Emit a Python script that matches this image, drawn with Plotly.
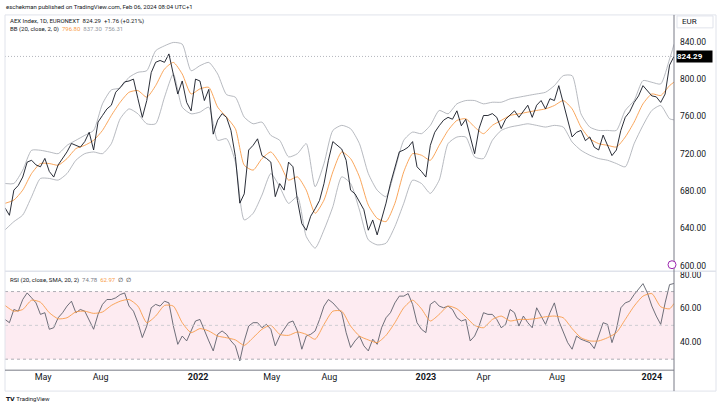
import pandas as pd
import plotly.graph_objects as go

# Euronext closing days in the period, so the axis runs on trading days like the source chart
holidays = ["2021-04-02", "2021-04-05", "2022-04-15", "2022-04-18", "2022-12-26",
            "2023-04-07", "2023-04-10", "2023-05-01", "2023-12-25", "2023-12-26", "2024-01-01"]

# one sample every 5 trading days, ending on the last bar (Feb 06, 2024)
tdays = pd.bdate_range("2020-12-01", "2024-02-06", freq="C", holidays=holidays)
week_dates = list(tdays[::-1][::5][:152][::-1])
band_dates = week_dates[::2] + [week_dates[-1]]

close = [
    662, 654, 681, 686, 695, 711, 713, 708, 706, 715, 701, 695, 708, 715, 722, 731, 729, 727, 733, 743,
    724, 754, 761, 768, 772, 786, 791, 797, 798, 800, 779, 759, 777, 807, 818, 820, 818, 827, 805, 784,
    798, 775, 766, 800, 798, 777, 789, 741, 756, 763,
    759, 745, 717, 667, 677, 724, 729, 736, 718, 715, 711, 674, 688, 681, 711, 706, 670, 645, 638, 653,
    661, 670, 688, 713, 733, 729, 725, 713, 681, 677, 669, 660, 638, 649, 633, 649, 667, 688, 705, 722,
    724, 727, 733, 706, 701, 695, 729, 743, 750, 756, 759,
    757, 766, 750, 757, 738, 720, 747, 761, 761, 763, 759, 747, 757, 761, 766, 759, 765, 772, 759, 772,
    777, 768, 779, 777, 793, 775, 756, 738, 743, 745, 734, 738, 727, 724, 740, 729, 718, 724, 745, 759,
    765, 775, 782, 793, 788, 782, 781, 775, 784, 815, 824.29,
]

# Bollinger Bands (20, close, 2) - sampled every two weeks
bb_upper = [
    688.1, 688.1, 702.4, 723.7, 723.7, 721.9, 720.1, 729.0, 734.4, 739.7,
    745.0, 773.5, 788.4, 790.5, 801.9, 807.3, 809.0, 830.4, 835.7, 839.3,
    837.5, 809.0, 814.4, 817.9, 805.5,
    783.4, 780.6, 759.2, 752.1, 753.9, 739.7, 734.4, 716.6, 720.1, 730.8,
    684.6, 709.5, 745.0, 750.4, 746.8, 730.8, 698.8, 681.0, 673.9, 702.4,
    734.4, 743.2, 741.5, 750.4, 766.4,
    762.8,
    773.5, 777.0, 777.0, 773.5, 775.2, 775.2, 778.8, 780.6, 782.4, 784.1,
    785.9, 793.0, 803.7, 803.7, 762.8, 748.6, 745.0, 745.0, 745.0, 766.4,
    777.0, 798.4, 796.6, 794.8, 821.5,
    837.30,
]
bb_basis = [
    666.8, 670.3, 681.0, 698.8, 709.5, 709.5, 707.7, 714.8, 725.5, 729.0,
    734.4, 745.0, 761.0, 775.2, 785.9, 787.7, 780.6, 793.0, 810.8, 817.9,
    805.5, 784.1, 789.5, 791.2, 769.9,
    759.2, 746.8, 707.7, 702.4, 714.8, 721.9, 709.5, 691.7, 695.2, 681.0,
    656.1, 670.3, 700.6, 721.9, 714.8, 695.2, 665.0, 650.8, 647.2, 666.8,
    700.6, 720.1, 718.4, 713.0, 729.0,
    745.0,
    755.7, 757.5, 748.6, 741.5, 750.4, 755.7, 761.0, 762.8, 764.6, 766.4,
    768.1, 771.7, 777.0, 768.1, 748.6, 736.1, 730.8, 729.0, 727.2, 737.9,
    753.9, 773.5, 784.1, 782.4, 793.0,
    796.80,
]
bb_lower = [
    638.3, 647.2, 654.3, 673.9, 693.5, 693.5, 691.7, 698.8, 713.0, 720.1,
    721.9, 720.1, 730.8, 757.5, 768.1, 762.8, 752.1, 752.1, 780.6, 805.5,
    769.9, 762.8, 764.6, 769.9, 734.4,
    736.1, 711.2, 649.0, 656.1, 675.7, 698.8, 684.6, 666.8, 673.9, 631.2,
    618.8, 638.3, 663.2, 695.2, 688.1, 659.7, 627.7, 622.3, 624.1, 641.9,
    666.8, 691.7, 688.1, 677.5, 691.7,
    730.8,
    737.9, 737.9, 716.6, 714.8, 734.4, 745.0, 748.6, 750.4, 752.1, 750.4,
    748.6, 750.4, 748.6, 732.6, 723.7, 718.4, 714.8, 713.0, 709.5, 705.9,
    730.8, 750.4, 766.4, 771.7, 757.5,
    756.31,
]

# RSI (20) weekly samples and its SMA (20) every two weeks
rsi = [
    53.5, 51.6, 59.4, 58.4, 65.3, 69.2, 66.3, 63.3, 56.5, 57.5,
    47.7, 48.6, 54.5, 57.5, 61.4, 64.3, 57.5, 59.4, 58.4, 53.5,
    47.7, 56.5, 62.4, 65.3, 65.3, 66.3, 68.2, 69.2, 61.4, 58.4,
    51.6, 42.8, 49.6, 60.4, 62.4, 61.4, 64.3, 63.3, 49.6, 38.8,
    43.7, 40.8, 46.7, 52.6, 53.5, 46.7, 40.8, 34.9, 44.7, 46.7,
    44.7, 40.8, 37.9, 29.0, 40.8, 49.6, 51.6, 51.6, 48.6, 50.6,
    47.7, 37.9, 43.7, 47.7, 51.6, 52.6, 46.7, 35.9, 43.7, 44.7,
    46.7, 53.5, 61.4, 65.3, 63.3, 60.4,
    57.5, 45.7, 36.9, 40.8, 43.7, 37.9, 34.9, 41.8, 38.8, 48.6,
    54.5, 57.5, 63.3, 67.3, 67.3, 68.8, 62.4, 51.6, 47.7, 45.7,
    62.4, 64.3, 61.4, 60.4, 61.4, 59.4, 54.5, 52.6, 53.5, 40.8,
    43.7, 49.6, 57.5, 56.5, 56.5, 53.5, 48.6, 50.6, 59.4, 57.5,
    49.6, 55.5, 51.6, 48.6, 60.4, 55.5, 50.6, 57.5, 63.3, 52.6,
    45.7, 39.8, 35.9, 43.7, 41.8, 40.8, 39.8, 36.3, 43.7, 51.6,
    50.6, 39.8, 47.7, 60.4, 63.3, 64.3, 68.2, 71.2, 74.7, 69.2,
    61.4, 55.5, 50.6, 63.3, 74.1, 74.78,
]
rsi_ma = [
    61.8, 58.4, 59.4, 64.9, 63.7, 57.5, 53.9, 54.5, 58.0, 58.4,
    57.1, 57.9, 61.8, 64.3, 65.3, 61.4, 51.6, 55.5, 61.8, 61.4,
    51.6, 45.7, 48.1, 46.7, 43.7, 42.7, 41.4, 38.2, 42.7, 47.7,
    50.0, 44.7, 44.1, 46.1, 44.7, 41.8, 50.6, 58.4,
    58.4, 49.6, 43.7, 41.4, 39.8, 44.1, 51.6, 60.4, 64.9, 59.8,
    52.6, 56.5, 61.4, 59.8, 55.1, 50.0, 48.6, 53.5, 55.5, 52.6,
    53.5, 53.5, 54.1, 55.1, 55.5, 54.5, 48.1, 42.7, 40.8, 40.8,
    42.7, 45.7, 53.5, 61.4, 67.3, 68.8, 61.0, 59.8,
    62.97,
]

tick_dates = ["2021-05-03", "2021-08-02", "2022-01-03", "2022-05-02", "2022-08-01",
              "2023-01-02", "2023-04-03", "2023-08-01", "2024-01-02"]
tick_text = ["May", "Aug", "<b>2022</b>", "May", "Aug", "<b>2023</b>", "Apr", "Aug", "<b>2024</b>"]

W, H = 720, 409
FONT = "Roboto, Arial, sans-serif"
ORANGE = "#f89c4a"
BAND = "#a5a8b0"
DARK = "#131722"
AXIS = "#787b86"


def px(x):
    return x / W


def py(y):
    return 1 - y / H


fig = go.Figure()
for vals, col, w in [(bb_upper, BAND, 0.8), (bb_lower, BAND, 0.8), (bb_basis, ORANGE, 0.9)]:
    fig.add_trace(go.Scatter(x=band_dates, y=vals, mode="lines",
                             line=dict(color=col, width=w, shape="spline", smoothing=0.6),
                             hoverinfo="skip", showlegend=False))
fig.add_trace(go.Scatter(x=week_dates, y=close, mode="lines", line=dict(color=DARK, width=0.9),
                         showlegend=False, name="AEX"))
fig.add_trace(go.Scatter(x=week_dates, y=rsi, mode="lines", line=dict(color="#5d606b", width=0.9),
                         xaxis="x", yaxis="y2", showlegend=False, name="RSI"))
fig.add_trace(go.Scatter(x=band_dates, y=rsi_ma, mode="lines",
                         line=dict(color=ORANGE, width=0.9, shape="spline", smoothing=0.6),
                         xaxis="x", yaxis="y2", showlegend=False, name="RSI MA"))

x0, x1 = px(5), px(674)
shapes = [
    # RSI background band and levels
    dict(type="rect", xref="paper", yref="y2", x0=x0, x1=x1, y0=30, y1=70,
         fillcolor="#fdebf1", line_width=0, layer="below"),
    dict(type="line", xref="paper", yref="y2", x0=x0, x1=x1, y0=70, y1=70,
         line=dict(color="#9a9ca5", width=0.8, dash="3px,3px")),
    dict(type="line", xref="paper", yref="y2", x0=x0, x1=x1, y0=50, y1=50,
         line=dict(color="#c3c5cb", width=0.8, dash="3px,3px")),
    dict(type="line", xref="paper", yref="y2", x0=x0, x1=x1, y0=30, y1=30,
         line=dict(color="#9a9ca5", width=0.8, dash="3px,3px")),
    # last price line
    dict(type="line", xref="paper", yref="y", x0=x0, x1=x1, y0=824.29, y1=824.29,
         line=dict(color="#9598a1", width=0.7, dash="1px,2px")),
    # frame
    dict(type="rect", xref="paper", yref="paper", x0=px(5), x1=px(716), y0=py(392), y1=py(14),
         line=dict(color="#e0e3eb", width=1)),
    dict(type="line", xref="paper", yref="paper", x0=px(5), x1=px(716), y0=py(271.5), y1=py(271.5),
         line=dict(color="#e0e3eb", width=1.5)),
    dict(type="line", xref="paper", yref="paper", x0=px(5), x1=px(674), y0=py(371), y1=py(371),
         line=dict(color=AXIS, width=1)),
    dict(type="line", xref="paper", yref="paper", x0=px(674), x1=px(674), y0=py(392), y1=py(14),
         line=dict(color=AXIS, width=1)),
    # currency box
    dict(type="rect", xref="paper", yref="paper", x0=px(677), x1=px(713), y0=py(27), y1=py(15),
         line=dict(color="#e0e3eb", width=1)),
    # events marker
    dict(type="circle", xref="paper", yref="paper", x0=px(668), x1=px(676), y0=py(269), y1=py(261),
         line=dict(color="#9c27b0", width=1), fillcolor="white"),
]

small = dict(family=FONT, size=6, color=DARK)
annotations = [
    dict(x=px(4), y=py(6), text="eschekman published on TradingView.com, Feb 06, 2024 08:04 UTC+1",
         font=small),
    dict(x=px(8), y=py(20), text="AEX Index, 1D, EURONEXT&nbsp;&nbsp;824.29&nbsp;&nbsp;+1.76 (+0.21%)",
         font=small),
    dict(x=px(8), y=py(28),
         text=f"BB (20, close, 2, 0)&nbsp;&nbsp;<span style='color:{ORANGE}'>796.80</span>&nbsp;&nbsp;"
              "<span style='color:#9598a1'>837.30</span>&nbsp;&nbsp;<span style='color:#9598a1'>756.31</span>",
         font=small),
    dict(x=px(8), y=py(280),
         text=f"RSI (20, close, SMA, 20, 2)&nbsp;&nbsp;<span style='color:#787b86'>74.78</span>&nbsp;&nbsp;"
              f"<span style='color:{ORANGE}'>62.97</span>&nbsp;&nbsp;∅&nbsp;&nbsp;∅",
         font=small),
    dict(x=px(680), y=py(21), text="EUR", font=dict(family=FONT, size=8, color=DARK)),
    dict(x=px(676), y=824.29, yref="y", text="<b>824.29</b>", bgcolor="#000000", width=35, height=11,
         align="left", borderpad=0, font=dict(family=FONT, size=8, color="white")),
    dict(x=px(4), y=py(399), text="<b>𝗧𝗩</b> TradingView", font=dict(family=FONT, size=6, color=DARK)),
]
for a in annotations:
    a.setdefault("xref", "paper")
    a.setdefault("yref", "paper")
    a.update(showarrow=False, xanchor="left", yanchor="middle")

tickfont = dict(family=FONT, size=8.5, color=DARK)
fig.update_layout(
    width=W, height=H,
    margin=dict(l=0, r=0, t=0, b=0),
    paper_bgcolor="white", plot_bgcolor="white",
    font=dict(family=FONT, color=DARK),
    showlegend=False,
    xaxis=dict(domain=[x0, x1], anchor="y2", type="date",
               range=[week_dates[0], week_dates[-1]],
               rangebreaks=[dict(bounds=["sat", "mon"]), dict(values=holidays)],
               tickmode="array", tickvals=tick_dates, ticktext=tick_text,
               showgrid=False, zeroline=False, showline=False, ticks="",
               tickfont=dict(family=FONT, size=9, color=DARK)),
    yaxis=dict(domain=[py(270), py(14)], range=[595.7, 868.8], side="right", anchor="x",
               tickvals=[600, 640, 680, 720, 760, 800, 840], tickformat=".2f",
               showgrid=False, zeroline=False, showline=False, ticks="", ticklabelstandoff=5,
               tickfont=tickfont),
    yaxis2=dict(domain=[py(371), py(271)], range=[23.5, 82.35], side="right", anchor="x",
                tickvals=[40, 60, 80], tickformat=".2f",
                showgrid=False, zeroline=False, showline=False, ticks="", ticklabelstandoff=5,
                tickfont=tickfont),
    shapes=shapes,
    annotations=annotations,
)

# drop the browser's default page margin so the figure sits at the window origin
fig.write_html("out.html", config={"displayModeBar": False},
               post_script="document.body.style.margin='0';document.body.style.overflow='hidden';")
